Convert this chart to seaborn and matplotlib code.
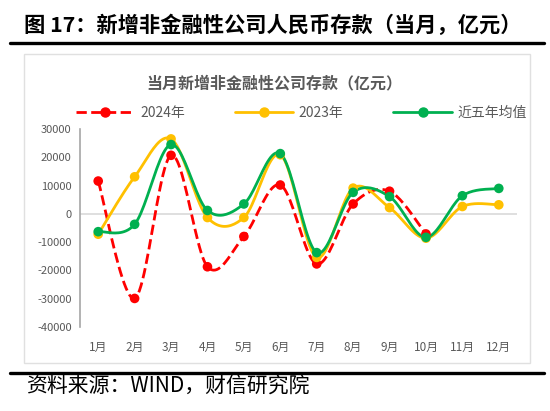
import numpy as np
import pandas as pd
import seaborn as sns
import matplotlib.pyplot as plt
from matplotlib.lines import Line2D
from matplotlib.patches import Rectangle

# monthly new RMB deposits of non-financial companies (100 mn yuan)
months = [f"{i}月" for i in range(1, 13)]
y2024 = [11600, -29900, 20700, -18700, -8000, 10200, -17700, 3500, 8000, -7100, np.nan, np.nan]
y2023 = [-7200, 13100, 26500, -1300, -1300, 20900, -15400, 9100, 2200, -8600, 2600, 3200]
avg5 = [-6300, -3700, 24500, 1200, 3500, 21300, -13700, 7600, 6100, -8300, 6400, 9000]
yticks = list(range(-40000, 30001, 10000))

series = {"2024年": y2024, "2023年": y2023, "近五年均值": avg5}
colors = {"2024年": "#FF0000", "2023年": "#FFC000", "近五年均值": "#00B050"}


def smooth(xs, ys, n=24):
    """Excel-like smoothed line (bezier with catmull-rom controls)"""
    pts = np.column_stack([xs, ys]).astype(float)
    pts = pts[~np.isnan(pts[:, 1])]
    p = np.vstack([pts[0], pts, pts[-1]])
    t = np.linspace(0, 1, n)[:, None]
    out = []
    for i in range(1, len(p) - 2):
        p0, p1, p2, p3 = p[i - 1], p[i], p[i + 1], p[i + 2]
        c1 = p1 + (p2 - p0) / 6
        c2 = p2 - (p3 - p1) / 6
        seg = (1 - t) ** 3 * p1 + 3 * (1 - t) ** 2 * t * c1 + 3 * (1 - t) * t ** 2 * c2 + t ** 3 * p2
        out.append(seg if i == 1 else seg[1:])
    return np.vstack(out)


sns.set_theme(style="white")
plt.rcParams["font.family"] = ["Noto Sans CJK SC", "DejaVu Sans"]

fig = plt.figure(figsize=(5.5, 4.11), dpi=100)
ax = fig.add_axes([80 / 550, 1 - 327 / 411, 437 / 550, 198 / 411])

x = np.arange(12)
for name, vals in series.items():
    curve = smooth(x, vals)
    df = pd.DataFrame({"x": curve[:, 0], "y": curve[:, 1]})
    ls = "--" if name == "2024年" else "-"
    sns.lineplot(data=df, x="x", y="y", ax=ax, sort=False, estimator=None,
                 color=colors[name], lw=2, linestyle=ls, zorder=3)
    pts = pd.DataFrame({"x": x, "y": vals}).dropna()
    sns.scatterplot(data=pts, x="x", y="y", ax=ax, color=colors[name], s=48,
                    edgecolor="none", zorder=4)

ax.axhline(0, color="#d9d9d9", lw=1.2, zorder=1)
ax.set_xlim(-0.5, 11.5)
ax.set_ylim(-40000, 30000)
ax.set_xticks(x)
ax.set_xticklabels(months)
ax.set_yticks(yticks)
ax.set_yticklabels([str(v) for v in yticks])
ax.set_xlabel("")
ax.set_ylabel("")
for s in ["top", "right", "bottom"]:
    ax.spines[s].set_visible(False)
ax.spines["left"].set_color("#a6a6a6")
ax.spines["left"].set_linewidth(1.2)
ax.tick_params(axis="y", length=4, width=1, color="#a6a6a6", labelsize=8, labelcolor="#595959", pad=2)
ax.tick_params(axis="x", length=0, labelsize=8.5, labelcolor="#595959", pad=10)

# legend
handles = [Line2D([], [], color=colors[k], lw=2, linestyle="--" if k == "2024年" else "-",
                  marker="o", markersize=6.5) for k in series]
fig.legend(handles, list(series), loc="center", bbox_to_anchor=(0.548, 1 - 113 / 411), ncol=3,
           frameon=False, handlelength=4.2, columnspacing=3.6, handletextpad=0.4,
           prop={"size": 10}, labelcolor="#595959")

# chart box and titles
fig.patches.append(Rectangle((24 / 550, 1 - 363 / 411), 506 / 550, 309 / 411, transform=fig.transFigure,
                             fill=False, edgecolor="#e0e0e0", lw=1))
fig.text(274 / 550, 1 - 83 / 411, "当月新增非金融性公司存款（亿元）", ha="center", va="center",
         fontsize=11.5, fontweight="bold", color="#595959")
fig.text(24 / 550, 1 - 25 / 411, "图 17：新增非金融性公司人民币存款（当月，亿元）", ha="left", va="center",
         fontsize=15.3, fontweight="bold", color="black")
fig.add_artist(Line2D([10 / 550, 544 / 550], [1 - 43 / 411] * 2, color="black", lw=2.4))
fig.add_artist(Line2D([10 / 550, 544 / 550], [1 - 373 / 411] * 2, color="black", lw=2.4))
fig.text(26 / 550, 1 - 387 / 411, "资料来源：WIND，财信研究院", ha="left", va="center",
         fontsize=15, style="italic", color="black")

fig.savefig("out.png", dpi=100)
